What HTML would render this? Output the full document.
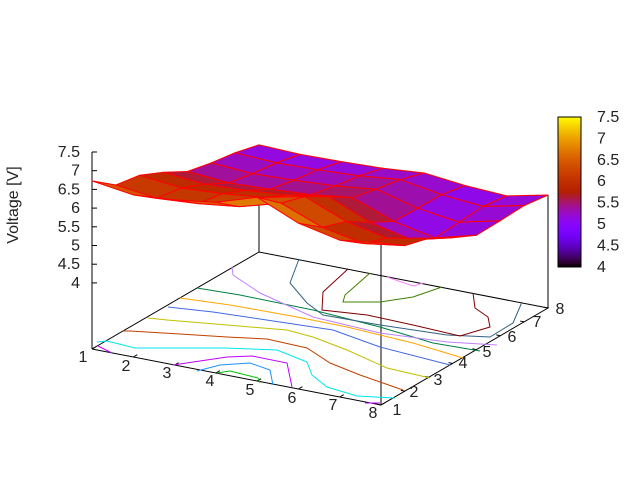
<!DOCTYPE html>
<html><head><meta charset="utf-8"><style>
html,body{margin:0;padding:0;background:#fff}
svg{display:block}
text{font-family:"Liberation Sans",sans-serif;font-size:16px;fill:#222}
</style></head><body>
<svg id="s" width="640" height="480" xmlns="http://www.w3.org/2000/svg">
<defs><linearGradient id="cb" x1="0" y1="1" x2="0" y2="0"></linearGradient></defs>
<rect width="640" height="480" fill="#fff"/>
<g id="axes" stroke="#000" stroke-width="1" fill="none">
<polyline points="92,349 381,405 548,308 259,252 92,349"/>
<line x1="92" y1="152" x2="92" y2="349"/>
<line x1="259" y1="152" x2="259" y2="252"/>
<line x1="381" y1="230" x2="381" y2="405"/>
<line x1="548" y1="195" x2="548" y2="308"/>
</g>
<g id="cont" fill="none" stroke-width="1"></g>
<g id="surf"></g>
<g id="lab"></g>
<rect x="558" y="117" width="23" height="150" fill="url(#cb)" stroke="#000"/>
<text x="12" y="205" transform="rotate(-90 18 205)" text-anchor="middle" dx="6">Voltage [V]</text>
</svg>
<script>
var NS="http://www.w3.org/2000/svg",S=document.getElementById('s');
function el(p,t,a){var e=document.createElementNS(NS,t);for(var k in a)e.setAttribute(k,a[k]);p.appendChild(e);return e;}
function col(z){var g=Math.max(0,Math.min(1,(z-4)/3.5));var r=Math.sqrt(g),gg=g*g*g,b=Math.sin(2*Math.PI*g);if(b<0)b=0;
return 'rgb('+Math.round(r*255)+','+Math.round(gg*255)+','+Math.round(b*255)+')';}
var grad=document.getElementById('cb');for(var i=0;i<=40;i++){el(grad,'stop',{offset:(i/40),'stop-color':col(4+3.5*i/40)});}
var lab=document.getElementById('lab'),ax=document.getElementById('axes');
var zl=['7.5','7','6.5','6','5.5','5','4.5','4'];
for(var i=0;i<8;i++){var y=152+i*18.7;el(ax,'line',{x1:92,y1:y,x2:97,y2:y});var t=el(lab,'text',{x:80,y:y+5,'text-anchor':'end'});t.textContent=zl[i];}
for(var i=0;i<8;i++){var y=117+i*21.4;el(ax,'line',{x1:581,y1:y,x2:577,y2:y});el(ax,'line',{x1:558,y1:y,x2:562,y2:y});var t=el(lab,'text',{x:597,y:y+5});t.textContent=zl[i];}
var xl=[[83,362],[126,371],[167,378],[210,386],[250,395],[292,403],[333,410],[373,418]];
var yl=[[397,415],[414,397],[438,385],[463,368],[487,357],[512,342],[537,327],[560,314]];
for(var i=0;i<8;i++){var t=el(lab,'text',{x:xl[i][0],y:xl[i][1],'text-anchor':'middle'});t.textContent=i+1;
var t2=el(lab,'text',{x:yl[i][0],y:yl[i][1],'text-anchor':'middle'});t2.textContent=i+1;}
for(var i=0;i<8;i++){var f=i/7;var x=92+289*f,y=349+56*f;el(ax,'line',{x1:x,y1:y,x2:x+4,y2:y-2.3});
var x2=381+167*f,y2=405-97*f;el(ax,'line',{x1:x2,y1:y2,x2:x2-4,y2:y2-0.8});}
var C=[['#00e5ee',[[97,342],[107,341],[135,348],[225,348],[277,350],[307,362],[312,375],[327,387],[357,396],[395,398]]],
['#c04000',[[123,331],[130,331],[180,334],[227,337],[267,339],[307,348],[330,363],[360,375],[403,390]]],
['#c0c000',[[148,318],[167,320],[227,325],[287,330],[313,337],[347,350],[387,368],[430,378]]],
['#4169e1',[[168,307],[213,312],[280,322],[333,330],[380,347],[450,365]]],
['#ffa500',[[180,298],[230,305],[297,317],[347,327],[413,343],[463,358]]],
['#008040',[[197,288],[240,295],[313,310],[380,327],[433,343],[480,351]]],
['#c080ff',[[232,267],[233,275],[260,293],[313,317],[380,333],[447,342],[497,345]]],
['#306080',[[299,259],[290,283],[307,303],[323,315],[380,325],[447,335],[490,337],[513,323],[522,302]]],
['#800000',[[348,269],[323,292],[322,310],[367,315],[413,325],[460,336],[490,327],[488,317],[475,308],[473,293]]],
['#408000',[[370,273],[345,295],[343,302],[380,302],[413,297],[442,287]]],
['#ff80ff',[[387,277],[413,286],[423,283]]],
['#c000ff',[[173,365],[227,357],[252,356],[287,363],[292,387]]],
['#c000ff',[[98,346],[112,353]]],['#c000ff',[[365,403],[380,403]]],
['#1e90ff',[[197,371],[220,365],[250,363],[270,370],[273,385]]],
['#00c000',[[217,373],[230,371],[258,378],[260,383]]]];
var cg=document.getElementById('cont');
C.forEach(function(c){el(cg,'polyline',{stroke:c[0],points:c[1].map(function(p){return p.join(',')}).join(' ')});});
var Fr=[6.73,6.57,6.65,6.8,7.15,6.67,6.43,6.57];
var Bk=[6.73,6.25,6.14,5.85,5.5,5.36,5.26,5.1];
function Z(i,j){var s=1-j/7;var z=Bk[j]+(Fr[i]-Fr[0])*(0.25+0.75*s);
z+= -0.35*Math.exp(-((i-6)*(i-6)+(j-3.5)*(j-3.5))/3)*(j>1?1:0.3);
if(i==7)z+=0.2*(j/7);return z;}
function P(i,j,z){var x=92+289*i/7+167*j/7,y=349+56*i/7-97*j/7;return [x,y-66-(z-4)*37.4];}
var cells=[];for(var i=0;i<7;i++)for(var j=0;j<7;j++){cells.push([i,j,56*(i+.5)/7-97*(j+.5)/7]);}
cells.sort(function(a,b){return a[2]-b[2];});
var sg=document.getElementById('surf');
cells.forEach(function(c){var i=c[0],j=c[1];var q=[[i,j],[i+1,j],[i+1,j+1],[i,j+1]];var zs=q.map(function(p){return Z(p[0],p[1])});
var pts=q.map(function(p,k){return P(p[0],p[1],zs[k]).join(',')}).join(' ');
var zm=(zs[0]+zs[1]+zs[2]+zs[3])/4;
el(sg,'polygon',{points:pts,fill:col(zm),stroke:'#ff0000','stroke-width':1,'stroke-linejoin':'round'});});
</script>
</body></html>
